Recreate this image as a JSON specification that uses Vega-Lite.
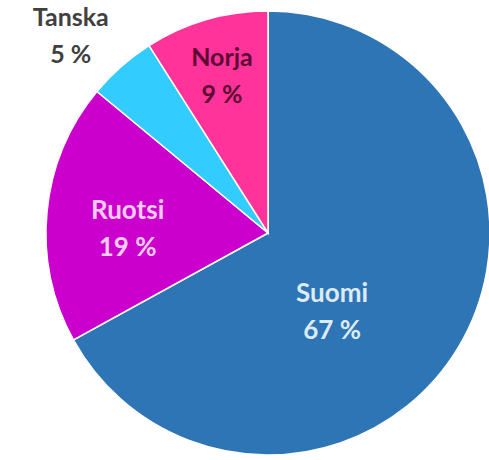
{
  "$schema": "https://vega.github.io/schema/vega-lite/v6.json",
  "width": 440,
  "height": 446,
  "autosize": {"type": "none"},
  "padding": {"left": 48, "top": 10, "right": 1, "bottom": 4},
  "background": "white",
  "config": {"view": {"stroke": null}},
  "data": {
    "values": [
      {"name": "Suomi", "value": 67, "order": 1, "label": "Suomi\n67 %"},
      {"name": "Ruotsi", "value": 19, "order": 2, "label": "Ruotsi\n19 %"},
      {"name": "Tanska", "value": 5, "order": 3, "label": "Tanska\n5 %"},
      {"name": "Norja", "value": 9, "order": 4, "label": "Norja\n9 %"}
    ]
  },
  "encoding": {
    "theta": {"field": "value", "type": "quantitative", "stack": true},
    "order": {"field": "order", "type": "quantitative"}
  },
  "layer": [
    {
      "mark": {"type": "arc", "outerRadius": 222, "stroke": "white", "strokeWidth": 1.5},
      "encoding": {
        "color": {
          "field": "name",
          "type": "nominal",
          "scale": {"domain": ["Suomi", "Ruotsi", "Tanska", "Norja"], "range": ["#2E75B6", "#CC00CC", "#33CCFF", "#FF3399"]},
          "legend": null
        }
      }
    },
    {
      "mark": {"type": "text", "radius": 100, "dx": -22, "dy": 10, "lineBreak": "\n", "lineHeight": 37, "font": "Lato", "fontSize": 26, "fontWeight": "bold", "fill": "#DDEBF7", "align": "center", "baseline": "middle"},
      "encoding": {"text": {"condition": {"test": "datum.name === 'Suomi'", "field": "label"}, "value": ""}}
    },
    {
      "mark": {"type": "text", "radius": 141, "dx": 0, "dy": -9, "lineBreak": "\n", "lineHeight": 37, "font": "Lato", "fontSize": 26, "fontWeight": "bold", "fill": "#F9CCF9", "align": "center", "baseline": "middle"},
      "encoding": {"text": {"condition": {"test": "datum.name === 'Ruotsi'", "field": "label"}, "value": ""}}
    },
    {
      "mark": {"type": "text", "radius": 165, "dy": -17, "lineBreak": "\n", "lineHeight": 37, "font": "Lato", "fontSize": 25, "fontWeight": "bold", "fill": "#5C0A33", "align": "center", "baseline": "middle"},
      "encoding": {"text": {"condition": {"test": "datum.name === 'Norja'", "field": "label"}, "value": ""}}
    },
    {
      "mark": {"type": "text", "radius": 265, "dx": -22, "dy": -16, "lineBreak": "\n", "lineHeight": 37, "font": "Lato", "fontSize": 25, "fontWeight": "bold", "fill": "#404040", "align": "center", "baseline": "middle"},
      "encoding": {"text": {"condition": {"test": "datum.name === 'Tanska'", "field": "label"}, "value": ""}}
    }
  ]
}
